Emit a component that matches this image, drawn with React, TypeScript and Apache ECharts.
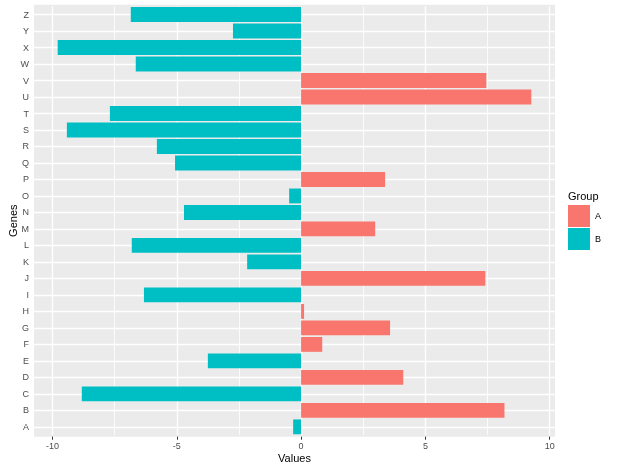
import React, { useEffect, useRef } from "react";
import * as echarts from "echarts";

const genes = ["A","B","C","D","E","F","G","H","I","J","K","L","M","N","O","P","Q","R","S","T","U","V","W","X","Y","Z"];
const values = [-0.32, 8.18, -8.82, 4.11, -3.75, 0.85, 3.58, 0.12, -6.32, 7.41, -2.17, -6.81, 2.98, -4.71, -0.48, 3.38, -5.07, -5.80, -9.42, -7.69, 9.26, 7.45, -6.65, -9.79, -2.74, -6.85];
const groups = ["B","A","B","A","B","A","A","A","B","A","B","B","A","B","B","A","B","B","B","B","A","A","B","B","B","B"];
const groupNames = ["A", "B"];
const groupColors = ["#F8766D", "#00BFC4"];
const xTicks = [-10, -5, 0, 5, 10];
const xMinorTicks = [-7.5, -2.5, 2.5, 7.5];

const FONT = "Liberation Sans, Arial, sans-serif";

export default function App() {
  const ref = useRef<HTMLDivElement>(null);
  useEffect(() => {
    if (!ref.current) return;
    const chart = echarts.init(ref.current, undefined, { renderer: "svg" });
    const vmin = Math.min(...values);
    const vmax = Math.max(...values);
    const pad = (vmax - vmin) * 0.05;

    const barSeries = groupNames.map((g, i) => ({
      name: g,
      type: "bar",
      stack: "total",
      barWidth: "90%",
      z: 3,
      itemStyle: { color: groupColors[i] },
      data: values.map((v, k) => (groups[k] === g ? v : null)),
    }));

    const gridSeries = {
      name: "__grid",
      type: "line",
      data: [],
      z: 1,
      silent: true,
      markLine: {
        silent: true,
        z: 1,
        zlevel: 0,
        symbol: "none",
        label: { show: false },
        animation: false,
        data: [
          ...xTicks.map((x) => ({ xAxis: x, lineStyle: { color: "#FFFFFF", width: 1.3, type: "solid" } })),
          ...xMinorTicks.map((x) => ({ xAxis: x, lineStyle: { color: "#FFFFFF", width: 0.8, type: "solid" } })),
          ...genes.map((g) => ({ yAxis: g, lineStyle: { color: "#FFFFFF", width: 1.3, type: "solid" } })),
        ],
      },
    };

    chart.setOption({
      animation: false,
      textStyle: { fontFamily: FONT },
      grid: { left: 34, right: 63, top: 6.3, bottom: 34.9, containLabel: false, outerBoundsMode: "none" },
      graphic: [
        {
          type: "rect",
          z: 0,
          silent: true,
          shape: { x: 34, y: 4.7, width: 521, height: 432 },
          style: { fill: "#EBEBEB" },
        },
        {
          type: "text",
          left: 568,
          top: 190,
          style: { text: "Group", fontSize: 11, fill: "#000000", fontFamily: FONT },
        },
      ],
      legend: {
        data: groupNames,
        orient: "vertical",
        left: 568,
        top: 205,
        padding: 0,
        itemWidth: 22,
        itemHeight: 22,
        itemGap: 1,
        icon: "rect",
        textStyle: { fontSize: 9, color: "#000000", fontFamily: FONT },
      },
      xAxis: {
        type: "value",
        min: vmin - pad,
        max: vmax + pad,
        offset: 1.6,
        name: "Values",
        nameLocation: "middle",
        nameGap: 16,
        nameMoveOverlap: false,
        nameTextStyle: { fontSize: 11, color: "#000000", fontFamily: FONT },
        axisLine: { show: false },
        splitLine: { show: false },
        axisTick: { show: true, length: 3, customValues: xTicks, lineStyle: { color: "#333333", width: 1 } },
        axisLabel: { customValues: xTicks, fontSize: 9, color: "#4D4D4D", margin: 5, fontFamily: FONT },
      },
      yAxis: {
        type: "category",
        data: genes,
        name: "Genes",
        nameLocation: "middle",
        nameRotate: 90,
        nameGap: 16,
        nameMoveOverlap: false,
        nameTextStyle: { fontSize: 11, color: "#000000", fontFamily: FONT },
        axisLine: { show: false },
        splitLine: { show: false },
        axisTick: { show: true, length: 3, alignWithLabel: true, lineStyle: { color: "#333333", width: 1 } },
        axisLabel: { fontSize: 9, color: "#4D4D4D", margin: 5, fontFamily: FONT },
      },
      series: [gridSeries, ...barSeries],
    });
    return () => chart.dispose();
  }, []);
  return <div ref={ref} style={{ position: "fixed", left: 0, top: 0, width: 618, height: 470 }} />;
}
